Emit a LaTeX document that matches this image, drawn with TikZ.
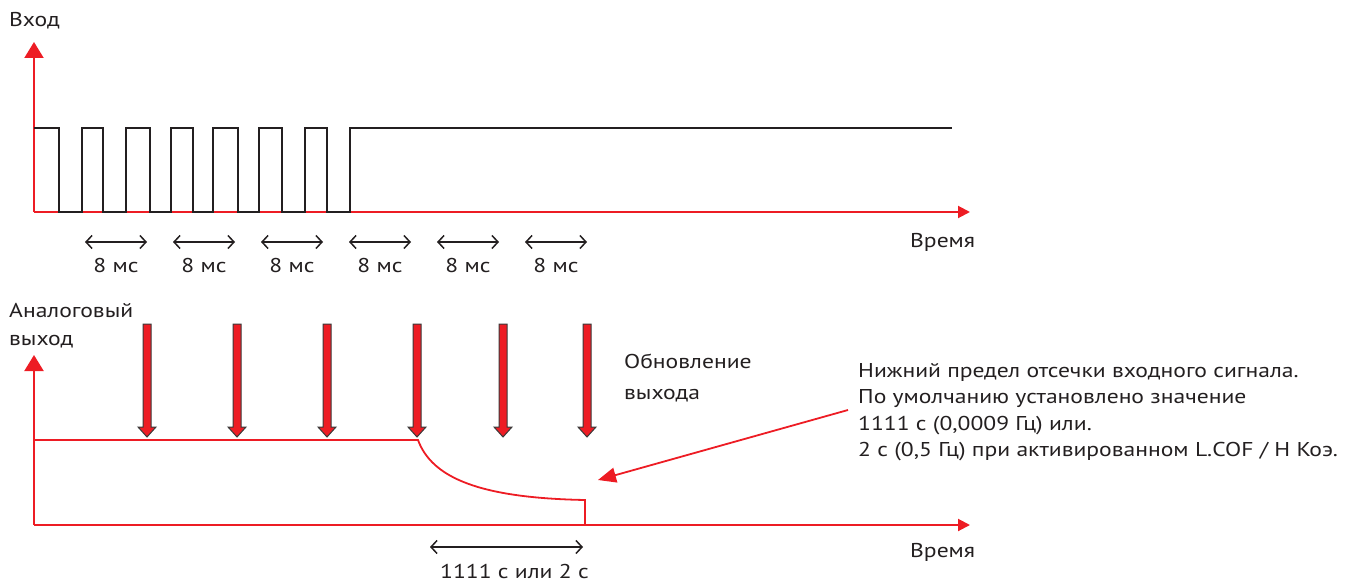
\documentclass[tikz,border=0pt]{standalone}
\usepackage{fontspec}
\setmainfont[FakeStretch=1.18]{PT Sans}
\usetikzlibrary{arrows.meta}
\definecolor{sigred}{HTML}{ED1C24}
\definecolor{ink}{HTML}{231F20}
\definecolor{edge}{HTML}{3A3A3A}
\begin{document}
\begin{tikzpicture}[x=1pt,y=-1pt,
  lbl/.style={inner sep=0pt, font=\fontsize{20}{26.5}\selectfont, text=ink},
  yaxis/.style={sigred, line width=2pt, -{Triangle[length=16pt,width=19pt]}},
  xaxis/.style={sigred, line width=2pt, -{Triangle[length=12pt,width=12pt]}},
  signal/.style={ink, line width=2.5pt, line join=miter},
  analog/.style={sigred, line width=1.8pt},
  span/.style={ink, line width=1.5pt, {Straight Barb[length=6pt,width=13pt]}-{Straight Barb[length=6pt,width=13pt]}},
  upd/.style={fill=sigred, draw=edge, line width=1pt, line join=miter},
  note/.style={sigred, line width=1.8pt, -{Triangle[length=18pt,width=15pt]}}]
\useasboundingbox (0,0) rectangle (1363,583);

% ---------- top chart ----------
\coordinate (o1) at (34,212);
\coordinate (y1) at (34,42);
\coordinate (x1) at (970,212);
\draw[xaxis] (o1) -- (x1);
\draw[yaxis] (o1) -- (y1);
\draw[signal] (34,128) -- (59,128) -- (59,212) -- (82,212) -- (82,128) -- (103,128) -- (103,212)
  -- (126,212) -- (126,128) -- (150,128) -- (150,212) -- (171,212) -- (171,128) -- (193,128)
  -- (193,212) -- (213,212) -- (213,128) -- (238,128) -- (238,212) -- (259,212) -- (259,128)
  -- (282,128) -- (282,212) -- (305,212) -- (305,128) -- (327,128) -- (327,212) -- (350,212)
  -- (350,128) -- (952,128);
\node[lbl, anchor=base west] (vhod) at (9,27) {Вход};
\node[lbl, anchor=base west] (t1) at (910,247) {Время};

\foreach \a/\i in {85/1,173/2,261/3,349/4,437/5,525/6} {
  \coordinate (sa\i) at (\a,242);
  \coordinate (sb\i) at ({\a+62},242);
  \draw[span] (sa\i) -- (sb\i);
  \node[lbl, anchor=base] (ms\i) at ({\a+31},272) {8 мс};
}

% ---------- bottom chart ----------
\coordinate (o2) at (34,525);
\coordinate (y2) at (34,355);
\coordinate (x2) at (970,525);
\draw[xaxis] (o2) -- (x2);
\draw[yaxis] (o2) -- (y2);
\node[lbl, anchor=base west] (ana) at (9,317) {Аналоговый};
\node[lbl, anchor=base west] (vyh) at (9,345) {выход};
\node[lbl, anchor=base west] (t2) at (910,557) {Время};

\coordinate (c0) at (34,440);
\coordinate (c1) at (418,440);
\coordinate (c2) at (585,500);
\coordinate (c3) at (585,525);
\draw[analog, line join=miter] (c0) -- (c1) .. controls (432,478) and (480,498) .. (c2) -- (c3);

\foreach \x in {147,237,327,417,503,587} {
  \filldraw[upd] ({\x-4},324) -- ({\x+4},324) -- ({\x+4},427) -- ({\x+9},427) -- (\x,437)
    -- ({\x-9},427) -- ({\x-4},427) -- cycle;
}
\node[lbl, anchor=base west] (obn1) at (624,368) {Обновление};
\node[lbl, anchor=base west] (obn2) at (624,399) {выхода};

\node[lbl, anchor=base west] (l1) at (858,377) {Нижний предел отсечки входного сигнала.};
\node[lbl, anchor=base west] (l2) at (858,403.5) {По умолчанию установлено значение};
\node[lbl, anchor=base west] (l3) at (858,430) {1111 с (0,0009 Гц) или.};
\node[lbl, anchor=base west] (l4) at (858,456.5) {2 с (0,5 Гц) при активированном L.COF / H Коэ.};
\coordinate (ns) at (848,410);
\coordinate (ne) at (598,480);
\draw[note] (ns) -- (ne);

\coordinate (da) at (430,547);
\coordinate (db) at (583,547);
\draw[span] (da) -- (db);
\node[lbl, anchor=base west] (dur) at (440,578) {1111 с или 2 с};
\end{tikzpicture}
\end{document}
